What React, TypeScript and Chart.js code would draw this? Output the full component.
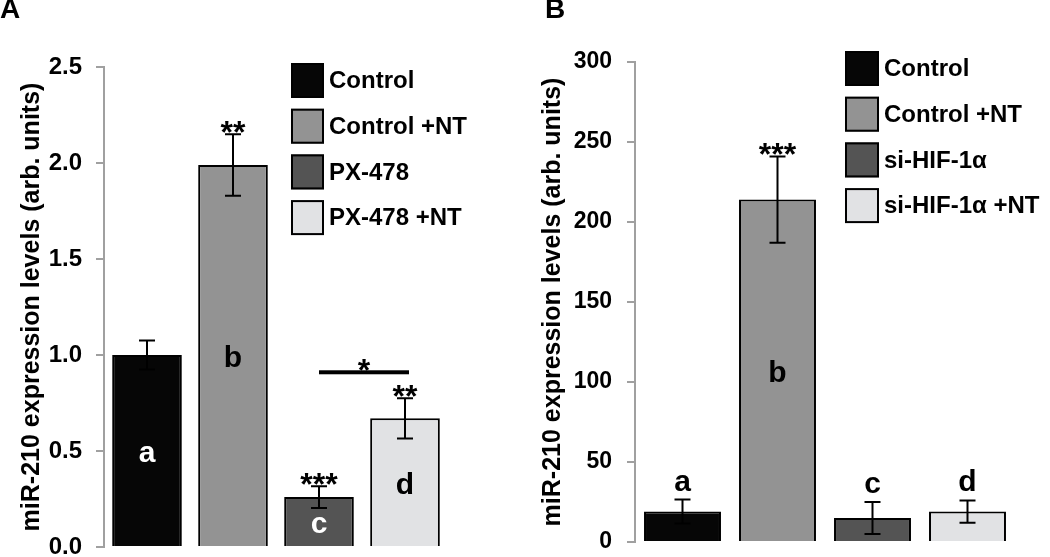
import React, { useEffect, useRef } from "react";
import { Chart, registerables } from "chart.js";
Chart.register(...registerables);

// ---------- Panel A data ----------
const categoriesA = ["Control", "Control +NT", "PX-478", "PX-478 +NT"];
const valuesA = [1.0, 1.99, 0.26, 0.67];
const errorsA = [0.075, 0.16, 0.057, 0.105];
const starsA = ["", "**", "***", "**"];
const lettersA = ["a", "b", "c", "d"];
const letterModeA = ["inside", "inside", "inside", "inside"];
const bracketA = { from: 2, to: 3, level: 0.91, label: "*" };

// ---------- Panel B data ----------
const categoriesB = ["Control", "Control +NT", "si-HIF-1α", "si-HIF-1α +NT"];
const valuesB = [19, 214, 15, 19];
const errorsB = [7.5, 27, 10, 7];
const starsB = ["", "***", "", ""];
const lettersB = ["a", "b", "c", "d"];
const letterModeB = ["above", "inside", "above", "above"];

const barColors = ["#060606", "#939393", "#545454", "#e1e2e4"];
const darkBars = [true, false, true, false];

const FONT = "'Liberation Sans', Arial, Helvetica, sans-serif";

const annotPlugin = {
  id: "annot",
  afterDatasetsDraw(chart: any, _args: any, opts: any) {
    const { ctx } = chart;
    const meta = chart.getDatasetMeta(0);
    const y = chart.scales.y;
    ctx.save();
    meta.data.forEach((bar: any, i: number) => {
      const v = opts.values[i];
      const e = opts.errors[i];
      const yt = y.getPixelForValue(v + e);
      const yb = y.getPixelForValue(v - e);
      ctx.strokeStyle = "#000";
      ctx.lineWidth = 2;
      ctx.beginPath();
      ctx.moveTo(bar.x, yt);
      ctx.lineTo(bar.x, yb);
      ctx.moveTo(bar.x - 8, yt);
      ctx.lineTo(bar.x + 8, yt);
      ctx.moveTo(bar.x - 8, yb);
      ctx.lineTo(bar.x + 8, yb);
      ctx.stroke();
      ctx.textAlign = "center";
      if (opts.stars[i]) {
        ctx.font = `bold 32px ${FONT}`;
        ctx.textBaseline = "alphabetic";
        ctx.fillStyle = "#000";
        ctx.fillText(opts.stars[i], bar.x, yt + 9);
      }
      const letter = opts.letters[i];
      if (letter) {
        ctx.font = `bold 30px ${FONT}`;
        if (opts.letterMode[i] === "inside") {
          ctx.fillStyle = darkBars[i] ? "#ffffff" : "#000000";
          ctx.textBaseline = "middle";
          ctx.fillText(letter, bar.x, y.getPixelForValue(v / 2) + 3);
        } else {
          ctx.fillStyle = "#000";
          ctx.textBaseline = "alphabetic";
          ctx.fillText(letter, bar.x, yt - 9);
        }
      }
    });
    if (opts.bracket) {
      const b = opts.bracket;
      const x1 = meta.data[b.from].x;
      const x2 = meta.data[b.to].x + 4;
      const yy = y.getPixelForValue(b.level);
      ctx.fillStyle = "#000";
      ctx.fillRect(x1, yy - 2, x2 - x1, 4);
      ctx.font = `bold 32px ${FONT}`;
      ctx.textAlign = "center";
      ctx.textBaseline = "alphabetic";
      ctx.fillText(b.label, (x1 + x2) / 2, yy + 9);
    }
    // legend
    const lx = chart.chartArea.left + opts.legendDx;
    const ly = chart.chartArea.top + opts.legendDy;
    opts.labels.forEach((lab: string, i: number) => {
      const top = ly + i * 45.7;
      ctx.fillStyle = barColors[i];
      ctx.fillRect(lx, top, opts.boxW, 35);
      ctx.strokeStyle = "#000";
      ctx.lineWidth = 2;
      ctx.strokeRect(lx + 1, top + 1, opts.boxW - 2, 33);
      ctx.fillStyle = "#000";
      ctx.font = `bold 24px ${FONT}`;
      ctx.textAlign = "left";
      ctx.textBaseline = "middle";
      ctx.fillText(lab, lx + opts.boxW + 5, top + 18.5);
    });
    // panel letter
    ctx.font = `bold 28px ${FONT}`;
    ctx.textAlign = "left";
    ctx.textBaseline = "alphabetic";
    ctx.fillStyle = "#000";
    ctx.fillText(opts.panel, opts.panelX, 18);
    ctx.restore();
  },
};

type PanelProps = {
  left: number;
  categories: string[];
  values: number[];
  errors: number[];
  stars: string[];
  letters: string[];
  letterMode: string[];
  bracket: any;
  yMax: number;
  step: number;
  decimals: number;
  axisWidth: number;
  padTop: number;
  padRight: number;
  padBottom: number;
  tickPad: number;
  tickFont: number;
  titlePad: number;
  legendDx: number;
  legendDy: number;
  boxW: number;
  panel: string;
  panelX: number;
};

function Panel(p: PanelProps) {
  const ref = useRef<HTMLCanvasElement>(null);
  useEffect(() => {
    if (!ref.current) return;
    const chart = new Chart(ref.current, {
      type: "bar",
      data: {
        labels: p.categories,
        datasets: [
          {
            data: p.values,
            backgroundColor: barColors,
            borderColor: "#000",
            borderWidth: 2,
            barPercentage: 0.81,
            categoryPercentage: 1,
          },
        ],
      },
      plugins: [annotPlugin],
      options: {
        responsive: false,
        animation: false,
        devicePixelRatio: 1,
        layout: { padding: { left: 0, top: p.padTop, right: p.padRight, bottom: p.padBottom } },
        plugins: {
          legend: { display: false },
          tooltip: { enabled: false },
          annot: {
            values: p.values,
            errors: p.errors,
            stars: p.stars,
            letters: p.letters,
            letterMode: p.letterMode,
            bracket: p.bracket,
            labels: p.categories,
            legendDx: p.legendDx,
            legendDy: p.legendDy,
            boxW: p.boxW,
            panel: p.panel,
            panelX: p.panelX,
          },
        } as any,
        scales: {
          x: { display: false },
          y: {
            min: 0,
            max: p.yMax,
            afterFit: (s: any) => {
              s.width = p.axisWidth;
              s.paddingTop = 0;
              s.paddingBottom = 0;
            },
            border: { display: true, color: "#a0a0a0", width: 2 },
            grid: {
              display: true,
              drawOnChartArea: false,
              drawTicks: true,
              tickLength: 8,
              color: "#a0a0a0",
              lineWidth: 2,
            },
            ticks: {
              stepSize: p.step,
              padding: p.tickPad,
              color: "#000",
              font: { family: FONT, size: p.tickFont, weight: "bold" },
              callback: (v: any) => Number(v).toFixed(p.decimals),
            },
            title: {
              display: true,
              text: "miR-210 expression levels (arb. units)",
              color: "#000",
              font: { family: FONT, size: 25, weight: "bold" },
              padding: { top: p.titlePad, bottom: 0 },
            },
          },
        },
      } as any,
    });
    return () => chart.destroy();
  }, []);
  return (
    <canvas
      ref={ref}
      width={525}
      height={557}
      style={{ position: "absolute", left: p.left, top: 0, width: 525, height: 557 }}
    />
  );
}

export default function App() {
  return (
    <div style={{ position: "absolute", left: 0, top: 0, width: 1050, height: 557, background: "#fff" }}>
      <Panel
        left={0}
        categories={categoriesA}
        values={valuesA}
        errors={errorsA}
        stars={starsA}
        letters={lettersA}
        letterMode={letterModeA}
        bracket={bracketA}
        yMax={2.5}
        step={0.5}
        decimals={1}
        axisWidth={104}
        padTop={67}
        padRight={77}
        padBottom={10}
        tickPad={14}
        tickFont={24}
        titlePad={17}
        legendDx={187}
        legendDy={-4}
        boxW={33}
        panel="A"
        panelX={0}
      />
      <Panel
        left={525}
        categories={categoriesB}
        values={valuesB}
        errors={errorsB}
        stars={starsB}
        letters={lettersB}
        letterMode={letterModeB}
        bracket={null}
        yMax={300}
        step={50}
        decimals={0}
        axisWidth={110}
        padTop={62}
        padRight={35}
        padBottom={15}
        tickPad={15}
        tickFont={23}
        titlePad={13}
        legendDx={210}
        legendDy={-11}
        boxW={34}
        panel="B"
        panelX={20}
      />
    </div>
  );
}
